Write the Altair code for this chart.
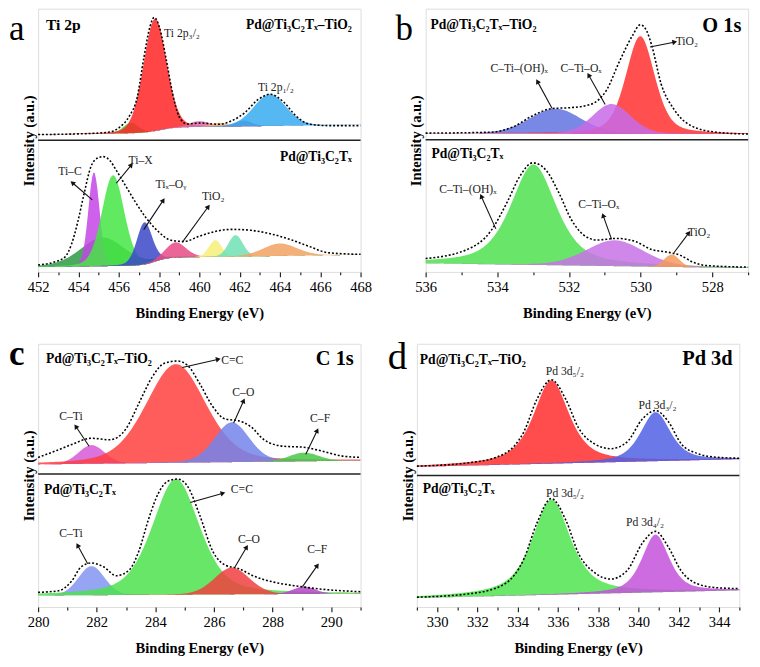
import math
import numpy as np
import pandas as pd
import altair as alt

FONT = "Liberation Serif, DejaVu Serif, serif"
W, H = 332, 271
NPTS = 240
SAMPLE_TOP = "Pd@Ti₃C₂Tₓ–TiO₂"
SAMPLE_BOT = "Pd@Ti₃C₂Tₓ"

# ---------------- panel a : Ti 2p ----------------
A_XRANGE = [452, 468]
A_TICKS = list(range(452, 469))
A_YMAX, A_DIVIDE = 274, 137
# background: level at left edge, slope per eV, step height, step centre, step width
A_TOP_BG = [143, 0.25, 6, 458.0, 0.8]
A_TOP_CENTER = [456.6, 457.8, 460.0, 461.0, 462.2, 463.5]
A_TOP_HEIGHT = [11, 117, 6, 4, 6, 33]
A_TOP_FWHM = [0.9, 1.35, 1.2, 1.0, 1.0, 1.9]
A_TOP_ETA = [0.2, 0.15, 0.2, 0.2, 0.2, 0.15]
A_TOP_COLOR = ["#3fd13f", "#ff2424", "#e06aac", "#f5b070", "#7a4fb0", "#38acf0"]
A_TOP_ENV_X = [452.0, 454.45, 455.57, 456.05, 456.52, 456.92, 457.24, 457.56, 457.76, 458.03, 458.35,
               458.67, 458.99, 459.39, 460.02, 460.98, 461.6, 462.25, 462.89, 463.52, 464.16, 464.8,
               465.43, 466.39, 468.0]
A_TOP_ENV_Y = [143, 144, 145.7, 150.7, 162, 182, 222, 256, 265, 254, 222, 186, 162, 154, 155, 153.7,
               157.3, 165.7, 179, 185, 177.3, 162.3, 154, 152.3, 152.3]
A_BOT_BG = [5, 0.3, 8, 457.8, 0.6]
A_BOT_CENTER = [455.2, 454.77, 455.72, 457.28, 458.83, 460.79, 461.8, 464.0]
A_BOT_HEIGHT = [30, 98, 94.6, 44, 16, 17.4, 22.4, 13]
A_BOT_FWHM = [2.6, 0.65, 1.3, 0.9, 1.2, 0.75, 0.85, 2.0]
A_BOT_ETA = [0.3, 0.1, 0.2, 0.2, 0.2, 0.1, 0.1, 0.2]
A_BOT_COLOR = ["#2e9a44", "#c445e6", "#45e645", "#3c48c8", "#e84a86", "#f6f07a", "#6fe0b4", "#f2a262"]
A_BOT_ENV_X = [452.0, 452.86, 453.34, 453.66, 453.97, 454.29, 454.61, 454.93, 455.25, 455.57, 455.88,
               456.36, 456.84, 457.32, 457.95, 458.59, 459.23, 460.02, 460.82, 461.61, 462.57, 463.52,
               464.48, 465.43, 466.39, 468.0]
A_BOT_ENV_Y = [7.3, 10.7, 15.7, 29, 52.3, 82.3, 109, 118.3, 120, 115.7, 105.7, 89, 72.3, 57.3, 42.3,
               33, 31.7, 37.3, 42.3, 44.3, 43.3, 39.7, 34, 26.7, 20, 18.3]
A_LABEL_TEXT = ["Ti 2p₃/₂", "Ti 2p₁/₂", "Ti–C", "Ti–X", "Tiₓ–Oᵧ", "TiO₂"]
A_LABEL_X = [459.14, 463.8, 453.58, 457.09, 458.59, 460.69]
A_LABEL_Y = [249, 192, 104.7, 116.5, 91, 79]
A_ARROW_X = [454.69, 455.88, 457.24, 459.15]
A_ARROW_Y = [75, 92.3, 44, 30.7]
A_ARROW_X2 = [453.73, 456.6, 458.19, 460.42]
A_ARROW_Y2 = [92.3, 110.7, 74, 67.3]

# ---------------- panel b : O 1s ----------------
B_XRANGE = [527, 536]
B_TICKS = list(range(527, 537))
B_YMAX, B_DIVIDE = 275, 138
B_TOP_BG = [144, 0.1, 0, 530.0, 1.0]
B_TOP_CENTER = [532.38, 530.01, 530.81]
B_TOP_HEIGHT = [26, 102, 31]
B_TOP_FWHM = [1.7, 0.95, 1.25]
B_TOP_ETA = [0.15, 0.4, 0.15]
B_TOP_COLOR = ["#6173e0", "#ff3030", "#c86ae8"]
B_TOP_ENV_X = [536.0, 534.17, 533.55, 533.01, 532.47, 531.93, 531.4, 530.95, 530.59, 530.23, 530.01,
               529.83, 529.69, 529.43, 529.07, 528.62, 527.9, 527.0]
B_TOP_ENV_Y = [145, 146, 151.7, 163.3, 170.7, 171.7, 175, 190, 220, 246.7, 258.3, 251.7, 236.7, 196.7,
               170, 153.3, 146, 144]
B_BOT_BG = [4, 0.55, 0, 530.0, 1.0]
B_BOT_CENTER = [532.99, 530.72, 529.13]
B_BOT_HEIGHT = [105, 27, 13]
B_BOT_FWHM = [1.5, 1.9, 0.5]
B_BOT_ETA = [0.6, 0.2, 0.1]
B_BOT_COLOR = ["#4fe24f", "#c872e6", "#f39a5a"]
B_BOT_ENV_X = [536.0, 534.89, 534.17, 533.72, 533.37, 533.01, 532.65, 532.29, 531.94, 531.58, 531.22,
               530.68, 530.14, 529.69, 529.25, 528.89, 528.53, 528.17, 527.0]
B_BOT_ENV_Y = [14, 22.7, 43.3, 73.3, 100, 114, 106.7, 83.3, 55, 38.3, 33.3, 35, 31.7, 23.3, 20.7, 17.3,
               10, 6.7, 5]
B_LABEL_TEXT = ["C–Ti–(OH)ₓ", "C–Ti–Oₓ", "TiO₂", "C–Ti–(OH)ₓ", "C–Ti–Oₓ", "TiO₂"]
B_LABEL_X = [533.39, 531.66, 528.71, 534.82, 531.17, 528.37]
B_LABEL_Y = [213, 213, 241, 86, 71, 42]
B_ARROW_X = [532.47, 530.99, 529.74, 534.04, 530.81, 529.07]
B_ARROW_Y = [170.7, 175, 235, 45, 34, 20]
B_ARROW_X2 = [532.87, 531.44, 529.07, 534.44, 531.04, 528.67]
B_ARROW_Y2 = [198.3, 205, 240, 78.3, 58.3, 40]

# ---------------- panel c : C 1s ----------------
C_XRANGE = [280, 291]
C_TICKS = list(range(280, 292))
C_YMAX, C_DIVIDE = 275, 139
C_TOP_BG = [149, 0.36, 0, 285.0, 1.0]
C_TOP_CENTER = [281.82, 284.7, 286.61, 289.07]
C_TOP_HEIGHT = [19.5, 103, 41.6, 9]
C_TOP_FWHM = [1.05, 2.4, 1.4, 1.2]
C_TOP_ETA = [0.1, 0.3, 0.2, 0.1]
C_TOP_COLOR = ["#d65ad6", "#ff4040", "#7484ea", "#48c848"]
C_TOP_ENV_X = [280.0, 280.59, 281.14, 281.8, 282.45, 283.0, 283.44, 283.88, 284.31, 284.75, 285.08,
               285.52, 285.95, 286.39, 286.83, 287.27, 287.71, 288.36, 289.02, 289.68, 290.33, 291.0]
C_TOP_ENV_Y = [156.3, 163, 169.7, 176.3, 174.7, 186.3, 213, 239.7, 254.7, 257, 253, 233, 209.7, 196.3,
               194.7, 188, 174.7, 168, 167, 163, 158, 156.3]
C_BOT_BG = [12, 0.18, 0, 285.0, 1.0]
C_BOT_CENTER = [281.82, 284.7, 286.61, 289.07]
C_BOT_HEIGHT = [30.4, 121, 28, 7.7]
C_BOT_FWHM = [1.05, 1.9, 1.4, 0.9]
C_BOT_ETA = [0.1, 0.45, 0.15, 0.1]
C_BOT_COLOR = ["#8494f2", "#4ee24e", "#f04040", "#b548c8"]
C_BOT_ENV_X = [280.0, 280.7, 281.14, 281.47, 281.82, 282.23, 282.67, 283.11, 283.44, 283.77, 284.1,
               284.42, 284.75, 285.08, 285.52, 285.95, 286.39, 286.83, 287.38, 288.04, 288.8, 289.46, 291.0]
C_BOT_ENV_Y = [15.3, 17, 27, 42, 46, 42, 32.7, 38.7, 58.7, 92, 118.7, 131.3, 133.7, 127, 95.3, 58.7,
               43.7, 40.3, 32, 26, 22, 19.3, 16]
C_LABEL_TEXT = ["C=C", "C–O", "C–Ti", "C–F", "C=C", "C–Ti", "C–O", "C–F"]
C_LABEL_X = [286.62, 287.0, 281.12, 289.62, 286.95, 281.12, 287.19, 289.52]
C_LABEL_Y = [258, 224, 199.5, 197, 123, 77, 71, 60]
C_ARROW_X = [284.92, 286.67, 281.74, 289.13, 285.19, 281.69, 286.72, 289.02]
C_ARROW_Y = [250.3, 192.3, 168, 159.7, 109.3, 45.3, 42, 21.3]
C_ARROW_X2 = [286.12, 287.0, 281.3, 289.51, 286.28, 281.36, 287.1, 289.51]
C_ARROW_Y2 = [258.7, 214.7, 188, 183.7, 118.7, 63.7, 62, 42.7]

# ---------------- panel d : Pd 3d ----------------
D_XRANGE = [329, 345]
D_TICKS = list(range(329, 346))
D_YMAX, D_DIVIDE = 276, 138
D_TOP_BG = [147, 0.5, 0, 337.0, 1.0]
D_TOP_CENTER = [335.67, 340.84]
D_TOP_HEIGHT = [87.4, 51.4]
D_TOP_FWHM = [2.1, 1.75]
D_TOP_ETA = [0.7, 0.6]
D_TOP_COLOR = ["#ff2e2e", "#5060e4"]
D_TOP_ENV_X = [329.0, 331.77, 333.36, 334.32, 334.95, 335.67, 336.39, 337.02, 337.82, 338.61, 339.41,
               340.21, 340.84, 341.48, 342.12, 342.91, 343.87, 345.0]
D_TOP_ENV_Y = [147.7, 151.7, 161, 184.3, 217.7, 238.3, 217.7, 187.7, 171, 166, 172.7, 197.7, 206,
               194.3, 171, 161, 157, 156]
D_BOT_BG = [9.5, 0.5, 0, 337.0, 1.0]
D_BOT_CENTER = [335.67, 340.84]
D_BOT_HEIGHT = [100, 60.5]
D_BOT_FWHM = [2.25, 1.6]
D_BOT_ETA = [0.7, 0.6]
D_BOT_COLOR = ["#50e450", "#c452dc"]
D_BOT_ENV_X = [329.0, 331.77, 333.36, 334.32, 334.95, 335.67, 336.39, 337.02, 337.82, 338.61, 339.41,
               340.21, 340.84, 341.48, 342.12, 342.91, 343.87, 345.0]
D_BOT_ENV_Y = [10.3, 14.3, 24.3, 51, 87.7, 113.7, 91, 56, 36, 29.3, 37.7, 67.7, 79.3, 62.7, 37.7,
               24.3, 20.3, 19.3]
D_LABEL_TEXT = ["Pd 3d₅/₂", "Pd 3d₃/₂", "Pd 3d₅/₂", "Pd 3d₄/₂"]
D_LABEL_X = [336.34, 340.94, 336.35, 340.32]
D_LABEL_Y = [247, 212, 119, 89]
D_ARROW_X, D_ARROW_Y, D_ARROW_X2, D_ARROW_Y2 = [], [], [], []


def profile(x, c, h, w, eta):
    d = (x - c) / w
    g = np.exp(-4 * np.log(2) * d * d)
    lor = 1.0 / (1.0 + 4 * d * d)
    return h * (eta * lor + (1 - eta) * g)


def background(x, xmin, p):
    base, slope, step, xs, ws = p
    return base + slope * (x - xmin) + step * 0.5 * (1 + np.tanh((x - xs) / ws))


DUMMY = pd.DataFrame({"d": [0]})


def build_panel(letter, letter_style, xr, ticks, reverse, ymax, divide, subs, envs,
                labels, arrows, headers):
    sx = W / (xr[1] - xr[0])
    sy = H / ymax
    X = alt.X("x:Q",
              scale=alt.Scale(domain=xr, reverse=reverse, nice=False, zero=False),
              axis=alt.Axis(title="Binding Energy (eV)", values=ticks,
                            labelExpr="datum.value % 2 == 0 ? datum.label : ''",
                            tickSize={"condition": {"test": "datum.value % 2 == 0", "value": 5}, "value": 3},
                            tickColor="#222", tickWidth=1.2, domain=False, grid=False,
                            labelFont=FONT, labelFontSize=15, labelColor="black", labelPadding=3,
                            labelFlush=False, labelOverlap=False,
                            titleFont=FONT, titleFontSize=15, titleFontWeight="bold",
                            titleColor="black", titlePadding=12))
    Y = alt.Y("y:Q",
              scale=alt.Scale(domain=[0, ymax], nice=False, zero=False),
              axis=alt.Axis(title="Intensity (a.u.)", labels=False, ticks=False, domain=False,
                            grid=False, titleFont=FONT, titleFontSize=15, titleFontWeight="bold",
                            titleColor="black", titlePadding=2))
    xs = np.linspace(xr[0], xr[1], NPTS)
    frames = []
    keys = []
    for si, (bg_p, cen, hei, fw, eta, col) in enumerate(subs):
        bg = background(xs, xr[0], bg_p)
        for k in range(len(cen)):
            key = f"{si}_{k}"
            y = bg + profile(xs, cen[k], hei[k], fw[k], eta[k])
            frames.append(pd.DataFrame({"x": xs, "y": y, "y0": bg, "k": key}))
            keys.append((key, col[k]))
    comp_df = pd.concat(frames, ignore_index=True)
    layers = []
    for key, col in keys:
        layers.append(alt.Chart(comp_df).transform_filter(alt.datum.k == key)
                      .mark_area(color=col, opacity=0.85, strokeWidth=0)
                      .encode(x=X, y=Y, y2="y0:Q"))
    for ex, ey in envs:
        layers.append(alt.Chart(pd.DataFrame({"x": ex, "y": ey}))
                      .mark_line(color="black", strokeDash=[2, 2], strokeWidth=1.6,
                                 interpolate="monotone")
                      .encode(x=X, y=Y))
    py = H - divide * sy
    layers.append(alt.Chart(DUMMY).mark_rule(color="#222", strokeWidth=1.6)
                  .encode(x=alt.value(0), x2=alt.value(W), y=alt.value(py)))
    ax, ay, ax2, ay2 = arrows
    if ax:
        adf = pd.DataFrame({"x": ax, "y": ay, "x2": ax2, "y2": ay2})
        layers.append(alt.Chart(adf).mark_rule(color="#111", strokeWidth=1.1)
                      .encode(x=X, y=Y, x2="x2:Q", y2="y2:Q"))
        angs = []
        for x1, y1, x2, y2 in zip(ax, ay, ax2, ay2):
            dx = (x2 - x1) * sx * (-1 if reverse else 1)
            dy = -(y2 - y1) * sy
            angs.append(math.degrees(math.atan2(dx, -dy)) % 360)
        hdf = pd.DataFrame({"x": ax2, "y": ay2, "ang": angs})
        layers.append(alt.Chart(hdf).mark_point(shape="triangle", filled=True, size=32,
                                                color="#111", opacity=1)
                      .encode(x=X, y=Y, angle=alt.Angle("ang:Q", scale=None)))
    lt, lx, ly = labels
    ldf = pd.DataFrame({"x": lx, "y": ly, "t": lt})
    layers.append(alt.Chart(ldf).mark_text(font=FONT, fontSize=12, color="#222",
                                           baseline="middle", align="center")
                  .encode(x=X, y=Y, text="t:N"))
    for text, hx, hy, align, size in headers:
        layers.append(alt.Chart(DUMMY).mark_text(text=text, font=FONT, fontSize=size,
                                                 fontWeight="bold", color="black",
                                                 align=align, baseline="middle")
                      .encode(x=alt.value(hx), y=alt.value(hy)))
    lsize, lweight, lx0, lyt = letter_style
    layers.append(alt.Chart(DUMMY).mark_text(text=letter, font=FONT, fontSize=lsize,
                                             fontWeight=lweight, color="black",
                                             align="left", baseline="top")
                  .encode(x=alt.value(lx0), y=alt.value(lyt)))
    return alt.layer(*layers).properties(width=W, height=H)


def div_px(ymax, divide):
    return H - divide * H / ymax


SY = H / 275.0

pa = build_panel(
    "a", (36, "normal", -30, 4), A_XRANGE, A_TICKS, False, A_YMAX, A_DIVIDE,
    [(A_TOP_BG, A_TOP_CENTER, A_TOP_HEIGHT, A_TOP_FWHM, A_TOP_ETA, A_TOP_COLOR),
     (A_BOT_BG, A_BOT_CENTER, A_BOT_HEIGHT, A_BOT_FWHM, A_BOT_ETA, A_BOT_COLOR)],
    [(A_TOP_ENV_X, A_TOP_ENV_Y), (A_BOT_ENV_X, A_BOT_ENV_Y)],
    (A_LABEL_TEXT, A_LABEL_X, A_LABEL_Y),
    (A_ARROW_X, A_ARROW_Y, A_ARROW_X2, A_ARROW_Y2),
    [("Ti 2p", 8, 17 * SY, "left", 16),
     (SAMPLE_TOP, W - 9, 17 * SY, "right", 14),
     (SAMPLE_BOT, W - 9, div_px(A_YMAX, A_DIVIDE) + 18 * SY, "right", 14)])

pb = build_panel(
    "b", (36, "normal", -31, 4), B_XRANGE, B_TICKS, True, B_YMAX, B_DIVIDE,
    [(B_TOP_BG, B_TOP_CENTER, B_TOP_HEIGHT, B_TOP_FWHM, B_TOP_ETA, B_TOP_COLOR),
     (B_BOT_BG, B_BOT_CENTER, B_BOT_HEIGHT, B_BOT_FWHM, B_BOT_ETA, B_BOT_COLOR)],
    [(B_TOP_ENV_X, B_TOP_ENV_Y), (B_BOT_ENV_X, B_BOT_ENV_Y)],
    (B_LABEL_TEXT, B_LABEL_X, B_LABEL_Y),
    (B_ARROW_X, B_ARROW_Y, B_ARROW_X2, B_ARROW_Y2),
    [(SAMPLE_TOP, 5, 17 * SY, "left", 14),
     ("O 1s", W - 7, 18 * SY, "right", 21),
     (SAMPLE_BOT, 6, div_px(B_YMAX, B_DIVIDE) + 15 * SY, "left", 14)])

pc = build_panel(
    "c", (36, "bold", -30, -6), C_XRANGE, C_TICKS, False, C_YMAX, C_DIVIDE,
    [(C_TOP_BG, C_TOP_CENTER, C_TOP_HEIGHT, C_TOP_FWHM, C_TOP_ETA, C_TOP_COLOR),
     (C_BOT_BG, C_BOT_CENTER, C_BOT_HEIGHT, C_BOT_FWHM, C_BOT_ETA, C_BOT_COLOR)],
    [(C_TOP_ENV_X, C_TOP_ENV_Y), (C_BOT_ENV_X, C_BOT_ENV_Y)],
    (C_LABEL_TEXT, C_LABEL_X, C_LABEL_Y),
    (C_ARROW_X, C_ARROW_Y, C_ARROW_X2, C_ARROW_Y2),
    [(SAMPLE_TOP, 8, 16 * SY, "left", 14),
     ("C 1s", W - 7, 16 * SY, "right", 21),
     (SAMPLE_BOT, 6, div_px(C_YMAX, C_DIVIDE) + 17 * SY, "left", 14)])

pd_ = build_panel(
    "d", (40, "normal", -30, -6), D_XRANGE, D_TICKS, False, D_YMAX, D_DIVIDE,
    [(D_TOP_BG, D_TOP_CENTER, D_TOP_HEIGHT, D_TOP_FWHM, D_TOP_ETA, D_TOP_COLOR),
     (D_BOT_BG, D_BOT_CENTER, D_BOT_HEIGHT, D_BOT_FWHM, D_BOT_ETA, D_BOT_COLOR)],
    [(D_TOP_ENV_X, D_TOP_ENV_Y), (D_BOT_ENV_X, D_BOT_ENV_Y)],
    (D_LABEL_TEXT, D_LABEL_X, D_LABEL_Y),
    (D_ARROW_X, D_ARROW_Y, D_ARROW_X2, D_ARROW_Y2),
    [(SAMPLE_TOP, 3, 17 * SY, "left", 14),
     ("Pd 3d", W - 7, 16 * SY, "right", 21),
     (SAMPLE_BOT, 6, div_px(D_YMAX, D_DIVIDE) + 14 * SY, "left", 14)])

row1 = alt.hconcat(pa, pb, spacing=23)
row2 = alt.hconcat(pc, pd_, spacing=23)
chart = (alt.vconcat(row1, row2, spacing=15,
                     padding={"left": 0, "top": -10, "right": 0, "bottom": 0})
         .configure_view(stroke="#333", strokeWidth=1.5)
         .configure(background="white"))

chart.save("out.html", embed_options={"renderer": "svg", "actions": False})
